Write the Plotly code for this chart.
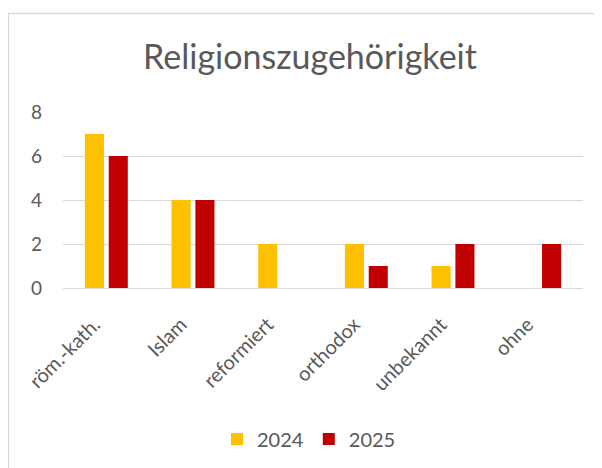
import plotly.graph_objects as go

categories = ["röm.-kath.", "Islam", "reformiert", "orthodox", "unbekannt", "ohne"]
values_2024 = [7, 4, 2, 2, 1, 0]
values_2025 = [6, 4, 0, 1, 2, 2]
series_names = ["2024", "2025"]
title_text = "Religionszugehörigkeit"
y_ticks = [0, 2, 4, 6, 8]

# page body has an 8px margin; work in figure coordinates (page - 8)
OFF = 8
W, H = 594, 460
ml, mt = 63 - OFF, 112 - OFF
pr, pb = 583 - OFF, 288 - OFF
mr, mb = W - pr, H - pb
pw, ph = pr - ml, pb - mt

font_family = "Lato, 'Open Sans', sans-serif"
text_color = "#595959"
grid_color = "#D9D9D9"

fig = go.Figure()
fig.add_trace(go.Bar(x=categories, y=values_2024, name=series_names[0],
                     marker=dict(color="#FFC000", line=dict(width=0))))
fig.add_trace(go.Bar(x=categories, y=values_2025, name=series_names[1],
                     marker=dict(color="#C00000", line=dict(width=0))))

def px_x(p):
    return (p - OFF - ml) / pw

def px_y(p):
    return (pb - (p - OFF)) / ph

fig.update_layout(
    width=W, height=H,
    margin=dict(l=ml, r=mr, t=mt, b=mb, autoexpand=False),
    paper_bgcolor="white", plot_bgcolor="white",
    font=dict(family=font_family, color=text_color, size=20),
    title=dict(text=title_text, x=px_x(310), xanchor="center", xref="paper",
               y=1 - (57 - OFF) / H, yanchor="middle", yref="container",
               font=dict(size=34, color=text_color, family=font_family)),
    barmode="group", bargap=0.45, bargroupgap=0.2,
    showlegend=True,
    legend=dict(orientation="h", x=px_x(309), xanchor="center",
                y=px_y(439), yanchor="middle",
                font=dict(size=20, color=text_color),
                itemwidth=30, traceorder="normal"),
    xaxis=dict(tickangle=-45, showgrid=False, showline=True, linecolor=grid_color,
               linewidth=1, ticks="", ticklabelstandoff=16, ticklabelshift=-12,
               tickfont=dict(size=20, color=text_color)),
    yaxis=dict(range=[0, 8], tickvals=y_ticks, showgrid=True, gridcolor=grid_color,
               gridwidth=1, zeroline=False, showline=False, ticks="",
               ticklabelstandoff=20, tickfont=dict(size=19, color=text_color)),
    shapes=[dict(type="rect", xref="paper", yref="paper",
                 x0=px_x(8.5), x1=px_x(640), y0=px_y(520), y1=px_y(13.5),
                 line=dict(color=grid_color, width=1.3), fillcolor="rgba(0,0,0,0)",
                 layer="below")],
)

fig.write_html("out.html")
